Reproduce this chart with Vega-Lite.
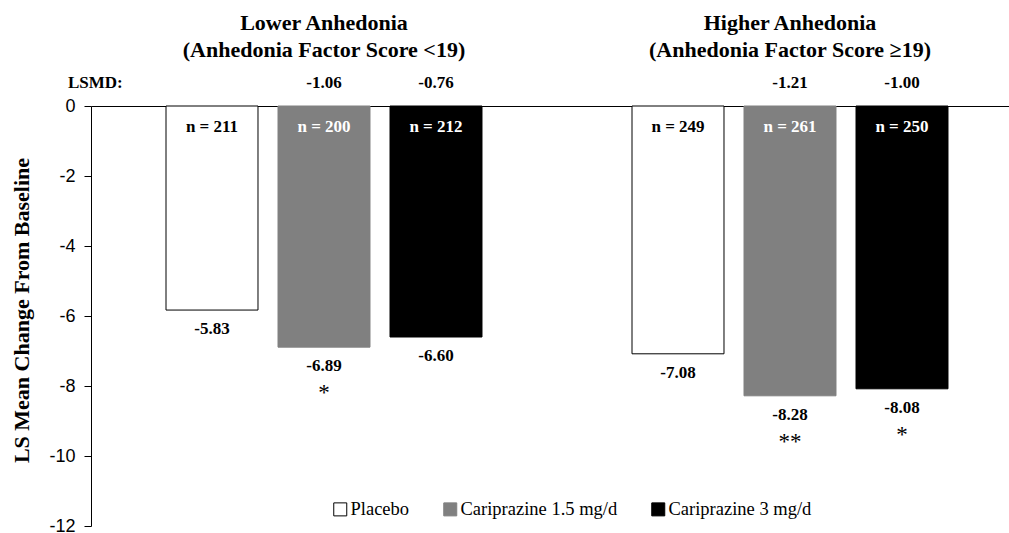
{
  "$schema": "https://vega.github.io/schema/vega-lite/v6.json",
  "width": 918,
  "height": 420,
  "autosize": {"type": "none"},
  "padding": {"left": 91, "top": 106, "right": 0, "bottom": 7},
  "background": "white",
  "config": {"view": {"stroke": null}, "font": "Liberation Serif"},
  "datasets": {
    "bars": [
      {"group": "Lower", "trt": "Placebo", "value": -5.83, "label": "-5.83", "n": "n = 211", "lsmd": "", "sig": ""},
      {"group": "Lower", "trt": "Cariprazine 1.5 mg/d", "value": -6.89, "label": "-6.89", "n": "n = 200", "lsmd": "-1.06", "sig": "*"},
      {"group": "Lower", "trt": "Cariprazine 3 mg/d", "value": -6.60, "label": "-6.60", "n": "n = 212", "lsmd": "-0.76", "sig": ""},
      {"group": "Higher", "trt": "Placebo", "value": -7.08, "label": "-7.08", "n": "n = 249", "lsmd": "", "sig": ""},
      {"group": "Higher", "trt": "Cariprazine 1.5 mg/d", "value": -8.28, "label": "-8.28", "n": "n = 261", "lsmd": "-1.21", "sig": "**"},
      {"group": "Higher", "trt": "Cariprazine 3 mg/d", "value": -8.08, "label": "-8.08", "n": "n = 250", "lsmd": "-1.00", "sig": "*"}
    ],
    "headers": [
      {"group": "Lower", "line": 1, "text": "Lower Anhedonia"},
      {"group": "Lower", "line": 2, "text": "(Anhedonia Factor Score <19)"},
      {"group": "Higher", "line": 1, "text": "Higher Anhedonia"},
      {"group": "Higher", "line": 2, "text": "(Anhedonia Factor Score ≥19)"}
    ],
    "lsmdLabel": [
      {"group": "Lower", "trt": "Placebo", "text": "LSMD:"}
    ]
  },
  "layer": [
    {
      "data": {"name": "bars"},
      "mark": {"type": "bar", "strokeWidth": 1},
      "encoding": {
        "x": {
          "field": "group", "type": "nominal",
          "scale": {"domain": ["Lower", "Higher"], "range": [0, 932], "paddingInner": 0, "paddingOuter": 0},
          "axis": {"orient": "top", "labels": false, "ticks": false, "title": null, "domainColor": "black", "domainWidth": 1}
        },
        "xOffset": {
          "field": "trt", "type": "nominal",
          "scale": {"domain": ["Placebo", "Cariprazine 1.5 mg/d", "Cariprazine 3 mg/d"], "paddingInner": 0.1786, "paddingOuter": 0.6697}
        },
        "y": {
          "field": "value", "type": "quantitative",
          "scale": {"domain": [-12, 0], "nice": false, "zero": false},
          "axis": {
            "values": [0, -2, -4, -6, -8, -10, -12],
            "labelExpr": "toString(datum.value)",
            "grid": false,
            "domainColor": "black", "tickColor": "black", "tickSize": 7,
            "labelFont": "Liberation Sans", "labelFontSize": 18, "labelColor": "black", "labelPadding": 9,
            "title": "LS Mean Change From Baseline",
            "titleFont": "Liberation Serif", "titleFontSize": 22, "titleFontWeight": "bold", "titleColor": "black",
            "titleAngle": -90, "titleX": -70, "titleY": 204, "titleAlign": "center", "titleBaseline": "middle"
          }
        },
        "fill": {
          "field": "trt", "type": "nominal",
          "scale": {"domain": ["Placebo", "Cariprazine 1.5 mg/d", "Cariprazine 3 mg/d"], "range": ["#ffffff", "#808080", "#000000"]},
          "legend": {
            "orient": "none", "legendX": 240, "legendY": 394, "direction": "horizontal", "title": null,
            "symbolType": "square", "symbolSize": 169, "symbolStrokeWidth": 1,
            "labelFont": "Liberation Serif", "labelFontSize": 18.5, "labelColor": "black", "labelLimit": 400,
            "columnPadding": 31, "labelOffset": 1, "padding": 0
          }
        },
        "stroke": {
          "field": "trt", "type": "nominal",
          "scale": {"domain": ["Placebo", "Cariprazine 1.5 mg/d", "Cariprazine 3 mg/d"], "range": ["#000000", "#808080", "#000000"]},
          "legend": {
            "orient": "none", "legendX": 240, "legendY": 394, "direction": "horizontal", "title": null,
            "symbolType": "square", "symbolSize": 169, "symbolStrokeWidth": 1,
            "labelFont": "Liberation Serif", "labelFontSize": 18.5, "labelColor": "black", "labelLimit": 400,
            "columnPadding": 31, "labelOffset": 1, "padding": 0
          }
        }
      }
    },
    {
      "data": {"name": "bars"},
      "mark": {"type": "text", "font": "Liberation Serif", "fontWeight": "bold", "fontSize": 17, "baseline": "alphabetic", "align": "center"},
      "encoding": {
        "x": {"field": "group", "type": "nominal"},
        "xOffset": {"field": "trt", "type": "nominal"},
        "y": {"datum": -0.743},
        "text": {"field": "n"},
        "color": {"condition": {"test": "datum.trt === 'Placebo'", "value": "black"}, "value": "white"}
      }
    },
    {
      "data": {"name": "bars"},
      "mark": {"type": "text", "font": "Liberation Serif", "fontWeight": "bold", "fontSize": 17, "baseline": "alphabetic", "align": "center", "dy": 24, "color": "black"},
      "encoding": {
        "x": {"field": "group", "type": "nominal"},
        "xOffset": {"field": "trt", "type": "nominal"},
        "y": {"field": "value", "type": "quantitative"},
        "text": {"field": "label"}
      }
    },
    {
      "data": {"name": "bars"},
      "mark": {"type": "text", "font": "Liberation Serif", "fontSize": 23, "baseline": "alphabetic", "align": "center", "dy": 53, "color": "black"},
      "encoding": {
        "x": {"field": "group", "type": "nominal"},
        "xOffset": {"field": "trt", "type": "nominal"},
        "y": {"field": "value", "type": "quantitative"},
        "text": {"field": "sig"}
      }
    },
    {
      "data": {"name": "bars"},
      "mark": {"type": "text", "font": "Liberation Serif", "fontWeight": "bold", "fontSize": 17, "baseline": "alphabetic", "align": "center", "color": "black"},
      "encoding": {
        "x": {"field": "group", "type": "nominal"},
        "xOffset": {"field": "trt", "type": "nominal"},
        "y": {"datum": 0.514},
        "text": {"field": "lsmd"}
      }
    },
    {
      "data": {"name": "lsmdLabel"},
      "mark": {"type": "text", "font": "Liberation Serif", "fontWeight": "bold", "fontSize": 17, "baseline": "alphabetic", "align": "left", "dx": -144, "color": "black"},
      "encoding": {
        "x": {"field": "group", "type": "nominal"},
        "xOffset": {"field": "trt", "type": "nominal"},
        "y": {"datum": 0.514},
        "text": {"field": "text"}
      }
    },
    {
      "data": {"name": "headers"},
      "transform": [{"filter": "datum.line === 1"}],
      "mark": {"type": "text", "font": "Liberation Serif", "fontWeight": "bold", "fontSize": 22, "baseline": "alphabetic", "align": "center", "color": "black"},
      "encoding": {
        "x": {"field": "group", "type": "nominal"},
        "y": {"datum": 2.171},
        "text": {"field": "text"}
      }
    },
    {
      "data": {"name": "headers"},
      "transform": [{"filter": "datum.line === 2"}],
      "mark": {"type": "text", "font": "Liberation Serif", "fontWeight": "bold", "fontSize": 22, "baseline": "alphabetic", "align": "center", "color": "black"},
      "encoding": {
        "x": {"field": "group", "type": "nominal"},
        "y": {"datum": 1.4},
        "text": {"field": "text"}
      }
    }
  ]
}
